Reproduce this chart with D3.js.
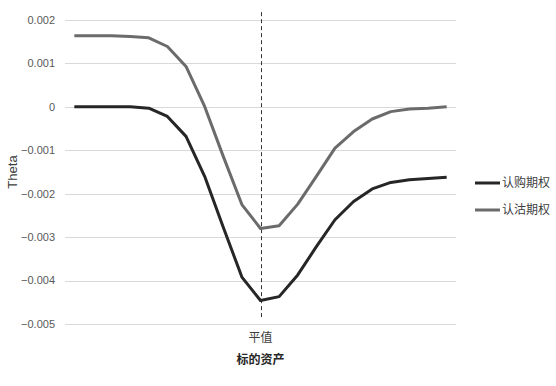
<html lang="zh">
<head>
  <meta charset="UTF-8">
  <title>Theta</title>
  <style>
    body {
      margin: 0;
      background-color: #fff;
    }

    text {
      font-family: 'Liberation Sans', Arial, 'Noto Sans CJK SC', sans-serif;
    }

    .grid line {
      stroke: #d9d9d9;
      stroke-width: 1;
    }

    .tick-label {
      fill: #595959;
      font-size: 11px;
      text-anchor: end;
    }

    .series {
      fill: none;
      stroke-width: 3;
      stroke-linejoin: round;
    }

    .atm-line {
      stroke: #333;
      stroke-width: 1;
      stroke-dasharray: 4,3;
    }

    .cat-label {
      fill: #404040;
      font-size: 12px;
      text-anchor: middle;
      font-family: 'Noto Sans CJK SC', sans-serif;
    }

    .x-title {
      fill: #262626;
      font-size: 12px;
      font-weight: bold;
      text-anchor: middle;
      font-family: 'Noto Sans CJK SC', sans-serif;
    }

    .y-title {
      fill: #404040;
      font-size: 13px;
      text-anchor: middle;
    }

    .legend-label {
      fill: #404040;
      font-size: 12px;
      font-family: 'Noto Sans CJK SC', sans-serif;
    }
  </style>
</head>
<body>
  <script src="https://cdn.jsdelivr.net/npm/d3@7"></script>
  <script>
    // 21 underlying prices, only the at-the-money one is labelled
    var categories = ['', '', '', '', '', '', '', '', '', '', '平值',
      '', '', '', '', '', '', '', '', '', ''];
    var atmLabel = '平值';

    var callTheta = [0, 0, 0, 0, -0.00003, -0.00022, -0.00068, -0.0016, -0.00277, -0.00392,
      -0.00446, -0.00437, -0.00387, -0.00322, -0.0026, -0.00218, -0.00189, -0.00174,
      -0.00168, -0.00165, -0.00162];
    var putTheta = [0.00164, 0.00164, 0.00164, 0.00162, 0.00159, 0.00139, 0.00093, 0.00001,
      -0.00114, -0.00225, -0.0028, -0.00274, -0.00224, -0.0016, -0.00095, -0.00057,
      -0.00028, -0.00011, -0.00005, -0.00003, 0];

    var yTicks = [0.002, 0.001, 0, -0.001, -0.002, -0.003, -0.004, -0.005];
    var seriesNames = ['认购期权', '认沽期权'];
    var seriesColors = ['#262626', '#6b6b6b'];

    var width = 556, height = 386;
    var plotLeft = 65, plotRight = 456, plotTop = 20, plotBottom = 324;

    var svg = d3.select('body').append('svg')
      .attr('width', width)
      .attr('height', height);

    var x = d3.scaleBand()
      .domain(d3.range(categories.length))
      .range([plotLeft, plotRight]);

    var y = d3.scaleLinear()
      .domain([-0.005, 0.002])
      .range([plotBottom, plotTop]);

    var cx = function(i) { return x(i) + x.bandwidth() / 2; };

    // gridlines
    svg.append('g')
      .attr('class', 'grid')
      .selectAll('line')
      .data(yTicks)
      .enter().append('line')
      .attr('x1', plotLeft)
      .attr('x2', plotRight)
      .attr('y1', function(d) { return Math.round(y(d)) + 0.5; })
      .attr('y2', function(d) { return Math.round(y(d)) + 0.5; });

    svg.selectAll('.tick-label')
      .data(yTicks)
      .enter().append('text')
      .attr('class', 'tick-label')
      .attr('x', plotLeft - 10)
      .attr('y', function(d) { return y(d); })
      .attr('dy', '.35em')
      .text(function(d) { return d === 0 ? '0' : d3.format('.3f')(d); });

    // dashed at-the-money marker
    var atm = categories.indexOf(atmLabel);
    svg.append('line')
      .attr('class', 'atm-line')
      .attr('x1', Math.round(cx(atm)) + 0.5)
      .attr('x2', Math.round(cx(atm)) + 0.5)
      .attr('y1', y(0.00218))
      .attr('y2', y(-0.00484));

    var line = d3.line()
      .x(function(d, i) { return cx(i); })
      .y(function(d) { return y(d); });

    [callTheta, putTheta].forEach(function(data, k) {
      svg.append('path')
        .datum(data)
        .attr('class', 'series')
        .attr('stroke', seriesColors[k])
        .attr('d', line);
    });

    // category labels
    svg.selectAll('.cat-label')
      .data(categories)
      .enter().append('text')
      .attr('class', 'cat-label')
      .attr('x', function(d, i) { return cx(i); })
      .attr('y', plotBottom + 18)
      .text(function(d) { return d; });

    svg.append('text')
      .attr('class', 'x-title')
      .attr('x', cx(atm))
      .attr('y', plotBottom + 40)
      .text('标的资产');

    svg.append('text')
      .attr('class', 'y-title')
      .attr('transform', 'translate(17,' + (plotTop + plotBottom) / 2 + ') rotate(-90)')
      .text('Theta');

    // legend
    var legend = svg.selectAll('.legend')
      .data(seriesNames)
      .enter().append('g')
      .attr('class', 'legend')
      .attr('transform', function(d, i) { return 'translate(475,' + (183 + i * 27) + ')'; });

    legend.append('line')
      .attr('x1', 0)
      .attr('x2', 25)
      .attr('stroke-width', 3)
      .attr('stroke', function(d, i) { return seriesColors[i]; });

    legend.append('text')
      .attr('class', 'legend-label')
      .attr('x', 27)
      .attr('dy', '.35em')
      .text(function(d) { return d; });
  </script>
</body>
</html>
